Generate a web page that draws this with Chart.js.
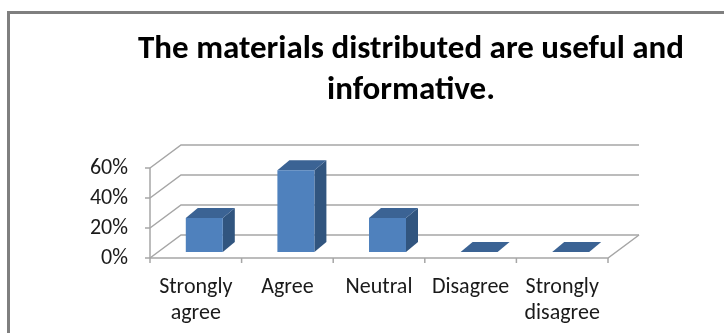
<!DOCTYPE html>
<html>
<head>
<meta charset="utf-8">
<script src="https://cdn.jsdelivr.net/npm/chart.js@4.4.1/dist/chart.umd.min.js"></script>
<style>
html, body { margin: 0; padding: 0; background: #fff; overflow: hidden; }
#frame { position: absolute; left: 7px; top: 11px; width: 900px; height: 400px;
         border-left: 3px solid #7f7f7f; border-top: 3px solid #7f7f7f; }
#wrap { position: absolute; left: 0; top: 0; width: 724px; height: 333px; }
</style>
</head>
<body>
<div id="frame"></div>
<div id="wrap"><canvas id="chart"></canvas></div>
<script>
const categories = [['Strongly', 'agree'], 'Agree', 'Neutral', 'Disagree', ['Strongly', 'disagree']];
const responseShare = [0.227, 0.545, 0.227, 0, 0];
const yTicks = [0, 0.2, 0.4, 0.6];
const titleLines = ['The materials distributed are useful and', 'informative.'];

const FONT = 'Calibri, Carlito, Lato, sans-serif';

// depth of the 3d box and of the bars
const BOX_DX = 31, BOX_DY = -23;
const BAR_OX = 8.5, BAR_OY = -6;
const BAR_DX = 12, BAR_DY = -10;

function line(ctx, pts)
{
    ctx.beginPath();
    ctx.moveTo(pts[0][0], pts[0][1]);
    for (let i = 1; i < pts.length; i++)
        ctx.lineTo(pts[i][0], pts[i][1]);
    ctx.stroke();
}

function poly(ctx, pts, color)
{
    ctx.beginPath();
    ctx.moveTo(pts[0][0], pts[0][1]);
    for (let i = 1; i < pts.length; i++)
        ctx.lineTo(pts[i][0], pts[i][1]);
    ctx.closePath();
    ctx.fillStyle = color;
    ctx.fill();
}

const box3d = {
    id: 'box3d',
    beforeDatasetsDraw(chart) {
        const { ctx, chartArea: a, scales: { x, y } } = chart;
        ctx.save();
        ctx.strokeStyle = '#a6a6a6';
        ctx.lineWidth = 1.5;

        // side + back wall gridlines
        yTicks.forEach(v => {
            const py = y.getPixelForValue(v);
            line(ctx, [[a.left, py], [a.left + BOX_DX, py + BOX_DY], [a.right + BOX_DX, py + BOX_DY]]);
        });

        // floor front edge and right edge
        line(ctx, [[a.left, a.bottom], [a.right, a.bottom], [a.right + BOX_DX, a.bottom + BOX_DY]]);

        // front vertical axis + tick marks
        const top = y.getPixelForValue(yTicks[yTicks.length - 1]);
        line(ctx, [[a.left, a.bottom], [a.left, top]]);
        yTicks.forEach(v => {
            const py = y.getPixelForValue(v);
            line(ctx, [[a.left - 5, py], [a.left, py]]);
        });

        // category tick marks
        const w = (a.right - a.left) / categories.length;
        for (let i = 0; i <= categories.length; i++)
        {
            const px = a.left + i * w;
            line(ctx, [[px, a.bottom], [px, a.bottom + 5]]);
        }
        ctx.restore();
    },
    afterDatasetsDraw(chart) {
        const ctx = chart.ctx;
        const meta = chart.getDatasetMeta(0);
        ctx.save();
        meta.data.forEach(bar => {
            const p = bar.getProps(['x', 'y', 'base', 'width'], true);
            const l = p.x - p.width / 2 + BAR_OX;
            const r = p.x + p.width / 2 + BAR_OX;
            const t = p.y + BAR_OY;
            const b = p.base + BAR_OY;
            // side
            poly(ctx, [[r, t], [r + BAR_DX, t + BAR_DY], [r + BAR_DX, b + BAR_DY], [r, b]], '#31557f');
            // top
            poly(ctx, [[l, t], [l + BAR_DX, t + BAR_DY], [r + BAR_DX, t + BAR_DY], [r, t]], '#3b6394');
            // front
            if (b - t > 0.5)
                poly(ctx, [[l, t], [r, t], [r, b], [l, b]], '#4f81bd');
        });
        ctx.restore();
    },
    afterDraw(chart) {
        const ctx = chart.ctx;
        ctx.save();
        ctx.font = 'bold 33px ' + FONT;
        ctx.fillStyle = '#000';
        ctx.textAlign = 'center';
        ctx.textBaseline = 'middle';
        titleLines.forEach((t, i) => ctx.fillText(t, 411, 50 + i * 41));
        ctx.restore();
    }
};

const ctx = document.getElementById('chart').getContext('2d');

const chart = new Chart(ctx, {
    type: 'bar',
    data: {
        labels: categories,
        datasets: [{
            data: responseShare,
            backgroundColor: 'rgba(0,0,0,0)',
            borderWidth: 0,
            categoryPercentage: 1,
            barPercentage: 0.404
        }]
    },
    options: {
        responsive: true,
        maintainAspectRatio: false,
        animation: false,
        layout: { padding: { top: 168, left: 0, right: 116, bottom: 0 } },
        plugins: {
            legend: { display: false },
            tooltip: { enabled: false },
            title: { display: false }
        },
        scales: {
            x: {
                grid: { display: false, drawTicks: false },
                border: { display: false },
                afterFit: s => { s.height = 75; },
                ticks: {
                    color: '#1a1a1a',
                    padding: 17,
                    maxRotation: 0,
                    autoSkip: false,
                    font: { family: FONT, size: 22, lineHeight: 1.18 }
                }
            },
            y: {
                min: 0,
                max: 0.6,
                grid: { display: false, drawTicks: false },
                border: { display: false },
                afterFit: s => { s.width = 150; },
                afterBuildTicks: s => { s.ticks = yTicks.map(v => ({ value: v })); },
                ticks: {
                    color: '#1a1a1a',
                    padding: 22,
                    font: { family: FONT, size: 22 },
                    callback: v => Math.round(v * 100) + '%'
                }
            }
        }
    },
    plugins: [box3d]
});
</script>
</body>
</html>
